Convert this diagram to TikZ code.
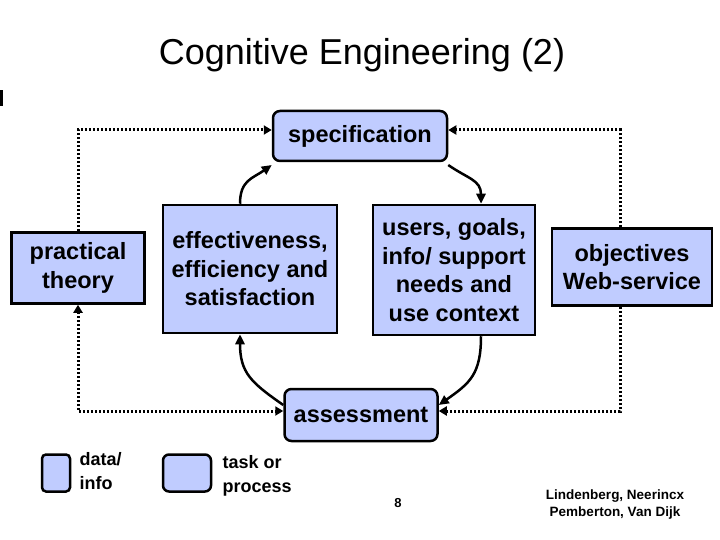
\documentclass[tikz,border=0pt]{standalone}
\usepackage{fontspec}
\setmainfont{Liberation Sans}
\usetikzlibrary{arrows.meta}
\definecolor{boxblue}{RGB}{192,204,255}
\tikzset{
  box/.style={draw=black,line width=2.5pt,fill=boxblue,font=\bfseries\fontsize{23.5}{28.5}\selectfont,align=center,inner sep=0pt},
  rbox/.style={box,rounded corners=7pt},
  dotline/.style={line width=3pt,dash pattern=on 2pt off 2pt,-{Triangle[length=8pt,width=9pt]}},
  curve/.style={line width=2.5pt,-{Triangle[length=10pt,width=9pt]}},
}
\begin{document}
\begin{tikzpicture}[x=1pt,y=-1pt]
\useasboundingbox (0,0) rectangle (720,540);
\fill (0,90) rectangle (3,106);
\node[font=\fontsize{36}{42}\selectfont] (title) at (362,55) {Cognitive Engineering (2)};
\node[rbox,minimum width=174pt,minimum height=50pt] (spec) at (360,136) {specification};
\node[rbox,minimum width=153pt,minimum height=52pt] (assess) at (361,415) {assessment};
\node[box,minimum width=133pt,minimum height=71pt] (theory) at (78,268) {practical\\theory};
\node[box,minimum width=174pt,minimum height=128pt] (eff) at (250,269) {effectiveness,\\efficiency and\\satisfaction};
\node[box,minimum width=162pt,minimum height=130pt] (users) at (454,270) {users, goals,\\info/ support\\needs and\\use context};
\node[box,minimum width=160pt,minimum height=77pt] (obj) at (632,267) {objectives\\Web-service};
% dotted feedback
\coordinate (tl) at (78,130); \coordinate (tr) at (620,130);
\coordinate (bl) at (78,411); \coordinate (br) at (620,411);
\coordinate (cyl) at (0,165); \coordinate (cyb) at (0,405);
\coordinate (effx) at (240,0); \coordinate (usx) at (481,0);
\draw[dotline] (theory.north) -- (tl) -- (spec.west |- tl);
\draw[dotline] (obj.north -| tr) -- (tr) -- (spec.east |- tr);
\draw[dotline,{Triangle[length=8pt,width=9pt]}-{Triangle[length=8pt,width=9pt]}] (theory.south) -- (bl) -- (assess.west |- bl);
\draw[dotline] (obj.south -| br) -- (br) -- (assess.east |- br);
% cycle
\draw[curve] (effx |- eff.north) to[out=90,in=215,looseness=1.2] (spec.west |- cyl);
\draw[curve] (spec.east |- cyl) to[out=-35,in=90,looseness=1.2] (usx |- users.north);
\draw[curve] (usx |- users.south) to[out=-90,in=35,looseness=1.2] (assess.east |- cyb);
\draw[curve] (assess.west |- cyb) to[out=145,in=-90,looseness=1.2] (effx |- eff.south);
% legend
\node[box,rounded corners=4pt,minimum width=28pt,minimum height=37pt] (leg1) at (56,473) {};
\node[font=\bfseries\fontsize{18}{24}\selectfont,align=left,anchor=west] (leg1t) at (76,471) {data/\\info};
\node[box,rounded corners=6pt,minimum width=48pt,minimum height=37pt] (leg2) at (187,473) {};
\node[font=\bfseries\fontsize{18}{24}\selectfont,align=left,anchor=west] (leg2t) at (219,476) {task or\\process};
\node[font=\bfseries\fontsize{13}{15}\selectfont] (page) at (398,503) {8};
\node[font=\bfseries\fontsize{13.5}{17}\selectfont,align=center] (cred) at (615,505) {Lindenberg, Neerincx\\Pemberton, Van Dijk};
\end{tikzpicture}
\end{document}
